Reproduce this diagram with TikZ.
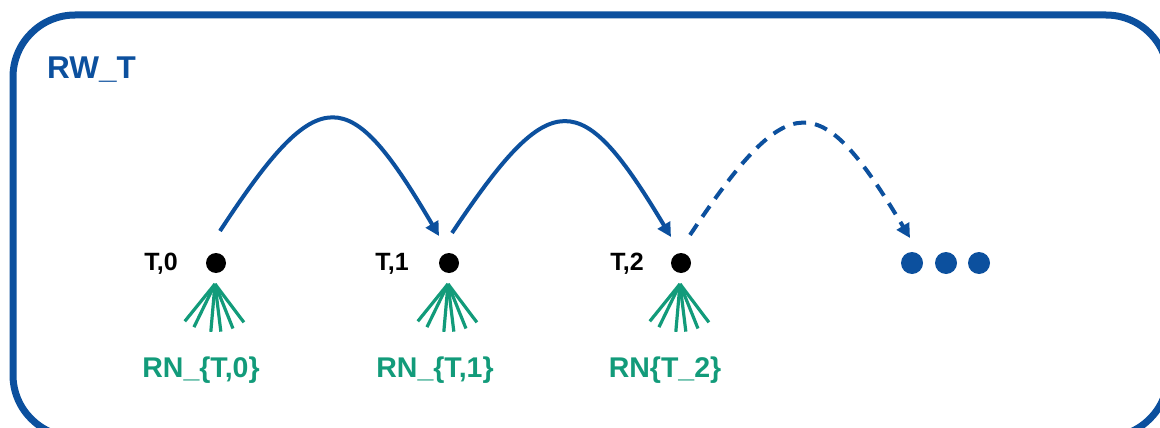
\documentclass[tikz,border=0pt]{standalone}
\usepackage{fontspec}
\setmainfont{Liberation Sans}
\usetikzlibrary{arrows.meta,calc}
\definecolor{rwblue}{RGB}{12,80,158}
\definecolor{rngreen}{RGB}{18,155,122}
\begin{document}
\begin{tikzpicture}[x=1pt,y=-1pt,
  frame/.style={draw=rwblue,line width=7pt,rounded corners=62pt},
  dot/.style={circle,fill=black,minimum size=20pt,inner sep=0pt},
  bdot/.style={circle,fill=rwblue,minimum size=22pt,inner sep=0pt},
  tlabel/.style={anchor=base,font=\fontsize{25}{29}\selectfont\bfseries,text=black,inner sep=0pt},
  rnlabel/.style={anchor=base,font=\fontsize{28.5}{32}\selectfont\bfseries,text=rngreen,inner sep=0pt},
  titlelabel/.style={anchor=base west,font=\fontsize{31.5}{36}\selectfont\bfseries,text=rwblue,inner sep=0pt},
  hop/.style={draw=rwblue,line width=4pt,-{Triangle[length=14pt,width=14pt]}},
  hopdash/.style={hop,dash pattern=on 13pt off 9pt},
  fanline/.style={draw=rngreen,line width=3.2pt}
]
\useasboundingbox (0,0) rectangle (1160,428);
\clip (0,0) rectangle (1160,428);
\fill[white] (0,0) rectangle (1160,428);
\draw[frame] (13,15) rectangle (1168,437);

\node[titlelabel] (title) at (47,79) {RW\_T};

% state dots
\node[dot] (t0) at (216,263) {};
\node[dot] (t1) at (449,263) {};
\node[dot] (t2) at (681,263) {};
\node[bdot] (b1) at (912,263) {};
\node[bdot] (b2) at (946,263) {};
\node[bdot] (b3) at (979,263) {};

% state labels
\node[tlabel] (l0) at (161,270) {T,0};
\node[tlabel] (l1) at (392,270) {T,1};
\node[tlabel] (l2) at (627,270) {T,2};

% fans
\foreach \n in {0,1,2}{
  \coordinate (f\n) at ($(t\n)+(-1,21)$);
  \foreach \a in {-39,-26,-5,7,22,37}
    \draw[fanline] (f\n) -- ++({90-\a}:48);
}

% RN labels
\node[rnlabel] (r0) at (201,377) {RN\_\{T,0\}};
\node[rnlabel] (r1) at (435,377) {RN\_\{T,1\}};
\node[rnlabel] (r2) at (665,377) {RN\{T\_2\}};

% hop arrows
\coordinate (s0) at ($(t0)+(4,-32)$);
\coordinate (e1) at ($(t1)+(-10,-27)$);
\coordinate (s1) at ($(t1)+(3,-30)$);
\coordinate (e2) at ($(t2)+(-10,-26)$);
\coordinate (s2) at ($(t2)+(9,-28)$);
\coordinate (e3) at ($(b1)+(-2,-25)$);

\draw[hop] (s0) .. controls +(100,-153) and +(-90,-153) .. (e1);
\draw[hop] (s1) .. controls +(100,-150) and +(-90,-150) .. (e2);
\draw[hopdash] (s2) .. controls +(100,-150) and +(-90,-150) .. (e3);
\end{tikzpicture}
\end{document}
